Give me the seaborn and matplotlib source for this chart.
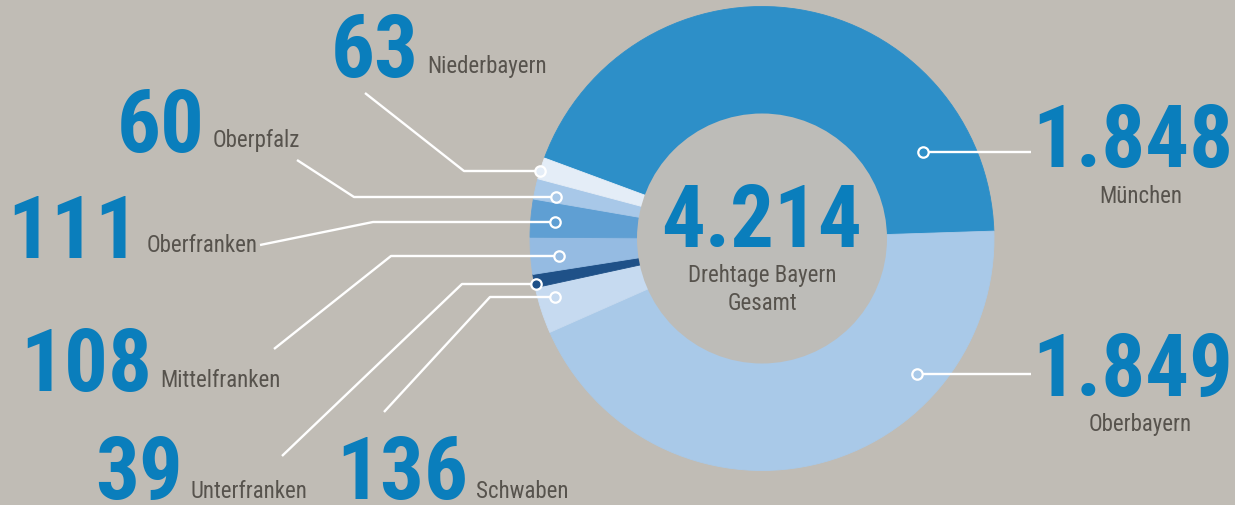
import matplotlib
matplotlib.use("Agg")
import matplotlib.pyplot as plt
from matplotlib import font_manager
from matplotlib.patches import Circle
import seaborn as sns

# ---------------- data ----------------
regions = ["München", "Oberbayern", "Schwaben", "Unterfranken",
           "Mittelfranken", "Oberfranken", "Oberpfalz", "Niederbayern"]
drehtage = [1848, 1849, 136, 39, 108, 111, 60, 63]
value_labels = ["1.848", "1.849", "136", "39", "108", "111", "60", "63"]
center_lines = ["Drehtage Bayern", "Gesamt"]
colors = ["#2d8fc8", "#a9c9e8", "#c6daf0", "#1f5188",
          "#95bbe2", "#5f9fd3", "#a8c8e8", "#e4edf7"]

# ---------------- style ----------------
sns.set_theme(style="white")
BG = "#c0bcb5"
INNER = "#bdbcb8"
NUM_COLOR = "#0a7ebc"
TXT_COLOR = "#57534d"


def available(fam):
    try:
        font_manager.findfont(font_manager.FontProperties(family=fam),
                              fallback_to_default=False)
        return True
    except Exception:
        return False


FONT = "DejaVu Sans"
NUM_SIZE, LAB_SIZE = 46, 14
for fam, ns, ls in [("Roboto Condensed", 62.5, 16.5),
                    ("Fira Sans Condensed", 62.5, 16.5),
                    ("Archivo Narrow", 64, 16.5),
                    ("Liberation Sans Narrow", 64, 16.5)]:
    if available(fam):
        FONT, NUM_SIZE, LAB_SIZE = fam, ns, ls
        break
plt.rcParams["font.family"] = [FONT, "DejaVu Sans"]

W, H = 1235, 506


def Y(py):
    return H - py


# layout (pixel coords of the reference): leader-line points,
# number position, label position
layout = {
    "München":       dict(pts=[(923, 153), (1031, 153)],
                          num=(1233, 167, "right"), lab=(1141, 203, "center")),
    "Oberbayern":    dict(pts=[(917, 375), (1031, 375)],
                          num=(1233, 396, "right"), lab=(1140, 431, "center")),
    "Schwaben":      dict(pts=[(555, 298), (490, 298), (384, 413)],
                          num=(336, 499, "left"), lab=(468, 498, "left")),
    "Unterfranken":  dict(pts=[(536, 285), (462, 285), (282, 457)],
                          num=(95, 499, "left"), lab=(187, 498, "left")),
    "Mittelfranken": dict(pts=[(559, 257), (391, 257), (274, 350)],
                          num=(20, 391, "left"), lab=(151, 387, "left")),
    "Oberfranken":   dict(pts=[(555, 223), (373, 223), (260, 246)],
                          num=(7, 258, "left"), lab=(132, 252, "left")),
    "Oberpfalz":     dict(pts=[(556, 198), (354, 198), (297, 161)],
                          num=(117, 152, "left"), lab=(213, 147, "left")),
    "Niederbayern":  dict(pts=[(540, 172), (464, 172), (365, 94)],
                          num=(331, 77, "left"), lab=(427, 73, "left")),
}

CX, CY, R, R_IN = 762, 239.5, 232, 125

fig = plt.figure(figsize=(W / 100, H / 100), dpi=100)
fig.patch.set_facecolor(BG)
ax = fig.add_axes([0, 0, 1, 1])
ax.set_facecolor(BG)

wedges, _ = ax.pie(drehtage, colors=colors, startangle=159.7,
                   counterclock=False, radius=R, center=(CX, Y(CY)),
                   wedgeprops=dict(linewidth=0.6))
for w in wedges:
    w.set_edgecolor(w.get_facecolor())
    w.set_zorder(2)

ax.add_patch(Circle((CX, Y(CY)), R_IN, facecolor=INNER, edgecolor="none",
                    zorder=3))

ax.set_xlim(0, W)
ax.set_ylim(0, H)
ax.set_aspect("equal")
ax.axis("off")

pairs = []
for name, val, col in zip(regions, value_labels, colors):
    L = layout[name]
    xs = [p[0] for p in L["pts"]]
    ys = [Y(p[1]) for p in L["pts"]]
    ax.plot(xs, ys, color="white", lw=1.7, solid_capstyle="butt", zorder=4)
    ax.plot(xs[0], ys[0], marker="o", ms=7.5, mfc=col, mec="white",
            mew=1.6, zorder=5)
    nx, ny, nha = L["num"]
    tn = ax.text(nx, Y(ny), val, ha=nha, va="baseline", fontsize=NUM_SIZE,
                 fontweight="bold", color=NUM_COLOR, zorder=6)
    lx, ly, lha = L["lab"]
    tl = ax.text(lx, Y(ly), name, ha=lha, va="baseline", fontsize=LAB_SIZE,
                 color=TXT_COLOR, zorder=6)
    if lha == "left":
        pairs.append((tn, tl))

total = sum(drehtage)
total_label = f"{total:,}".replace(",", ".")
ax.text(CX, Y(247), total_label, ha="center", va="baseline",
        fontsize=NUM_SIZE, fontweight="bold", color=NUM_COLOR, zorder=6)
ax.text(CX, Y(282), center_lines[0], ha="center", va="baseline",
        fontsize=LAB_SIZE, color=TXT_COLOR, zorder=6)
ax.text(CX, Y(310), center_lines[1], ha="center", va="baseline",
        fontsize=LAB_SIZE, color=TXT_COLOR, zorder=6)

# keep each region name clear of its number
fig.canvas.draw()
rend = fig.canvas.get_renderer()
for tn, tl in pairs:
    right = tn.get_window_extent(rend).x1
    if tl.get_position()[0] < right + 8:
        tl.set_x(right + 8)

fig.savefig("out.png", dpi=100, facecolor=BG)
